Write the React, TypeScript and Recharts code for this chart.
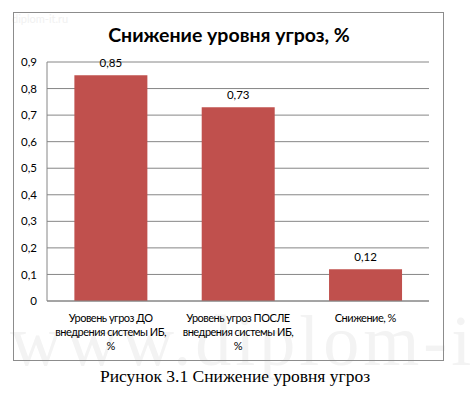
import React from 'react';
import { BarChart, Bar, XAxis, YAxis, CartesianGrid, LabelList } from 'recharts';

const CATEGORIES = ['before', 'after', 'drop'];
const CATEGORY_LINES = [
  ['Уровень угроз ДО', 'внедрения системы ИБ,', '%'],
  ['Уровень угроз ПОСЛЕ', 'внедрения системы ИБ,', '%'],
  ['Снижение, %'],
];
const VALUES = [0.85, 0.73, 0.12];
const Y_TICKS = [0, 0.1, 0.2, 0.3, 0.4, 0.5, 0.6, 0.7, 0.8, 0.9];

const TITLE = 'Снижение уровня угроз, %';
const CAPTION = 'Рисунок 3.1 Снижение уровня угроз';

const BAR_COLOR = '#C0504D';
const GRID_COLOR = '#868686';
const FONT = 'Lato, "Open Sans", sans-serif';

const chartData = CATEGORIES.map((key, i) => ({ key, idx: i, value: VALUES[i] }));

const comma = (v: number) => String(v).replace('.', ',');

// each line is its own <text> so the rows don't share one box
function CategoryTick(props: any) {
  const { x, y, payload } = props;
  const lines = CATEGORY_LINES[payload.index] || [];
  return (
    <g>
      {lines.map((line, i) => (
        <text
          key={i}
          x={x}
          y={y + 13 + i * 14}
          textAnchor="middle"
          fill="#000"
          fontSize={11}
          letterSpacing={-0.5}
          fontFamily={FONT}
        >
          {line}
        </text>
      ))}
    </g>
  );
}

export default function App() {
  return (
    <div
      style={{
        position: 'absolute',
        left: 0,
        top: 0,
        width: 472,
        height: 403,
        background: '#fff',
        overflow: 'hidden',
      }}
    >
      {/* faint watermarks */}
      <div
        style={{
          position: 'absolute',
          left: 12,
          top: 12,
          fontFamily: FONT,
          fontSize: 11,
          color: '#f1f1f1',
        }}
      >
        diplom-it.ru
      </div>
      <div
        style={{
          position: 'absolute',
          left: 10,
          top: 300,
          fontFamily: '"Liberation Serif", serif',
          fontSize: 72,
          color: '#f3f3f3',
          whiteSpace: 'nowrap',
          letterSpacing: 4,
        }}
      >
        www.diplom-it
      </div>

      {/* chart frame */}
      <div
        style={{
          position: 'absolute',
          left: 13,
          top: 12,
          width: 429,
          height: 347,
          border: '1px solid #8c8c8c',
        }}
      />
      <div
        style={{
          position: 'absolute',
          left: 0,
          top: 23,
          width: 458,
          textAlign: 'center',
          fontFamily: FONT,
          fontWeight: 'bold',
          fontSize: 19.5,
          color: '#000',
        }}
      >
        {TITLE}
      </div>

      <div style={{ position: 'absolute', left: 0, top: 0 }}>
        <BarChart
          width={472}
          height={403}
          data={chartData}
          margin={{ top: 62, right: 43, bottom: 52, left: 17 }}
          barCategoryGap="21.5%"
        >
          <CartesianGrid vertical={false} stroke={GRID_COLOR} />
          <XAxis
            dataKey="key"
            axisLine={{ stroke: GRID_COLOR }}
            tickLine={false}
            height={50}
            interval={0}
            tick={<CategoryTick />}
          />
          <YAxis
            domain={[0, 0.9]}
            ticks={Y_TICKS}
            width={30}
            axisLine={{ stroke: GRID_COLOR }}
            tickLine={false}
            tickMargin={4}
            tickFormatter={comma}
            tick={{ fill: '#000', fontSize: 11.5, fontFamily: FONT }}
          />
          <Bar dataKey="value" fill={BAR_COLOR} isAnimationActive={false}>
            <LabelList
              dataKey="value"
              position="top"
              offset={8}
              formatter={(v: any) => comma(v)}
              style={{ fill: '#000', fontSize: 11.5, fontFamily: FONT }}
            />
          </Bar>
        </BarChart>
      </div>

      <div
        style={{
          position: 'absolute',
          left: 0,
          top: 366,
          width: 470,
          textAlign: 'center',
          fontFamily: '"Liberation Serif", "Times New Roman", serif',
          fontSize: 17.5,
          color: '#000',
        }}
      >
        {CAPTION}
      </div>
    </div>
  );
}
